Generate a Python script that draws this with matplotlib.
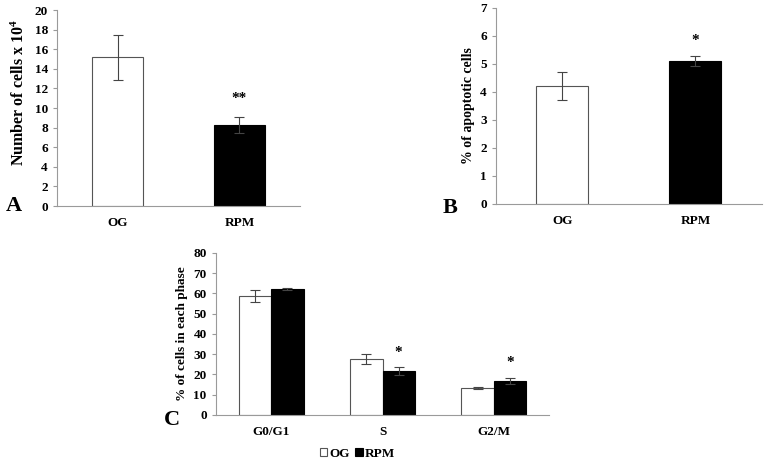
import matplotlib
matplotlib.use("Agg")
import matplotlib.pyplot as plt
import numpy as np

plt.rcParams['font.family'] = ['Liberation Serif', 'DejaVu Serif']
plt.rcParams['font.weight'] = 'bold'
plt.rcParams['mathtext.fontset'] = 'custom'
plt.rcParams['mathtext.rm'] = 'Liberation Serif:bold'
plt.rcParams['mathtext.bf'] = 'Liberation Serif:bold'
plt.rcParams['mathtext.default'] = 'rm'

# panel A
a_groups = ["OG", "RPM"]
a_values = [15.2, 8.3]
a_errors = [2.3, 0.8]
a_stars = ["", "**"]
a_star_y = [0, 11.0]

# panel B
b_groups = ["OG", "RPM"]
b_values = [4.2, 5.1]
b_errors = [0.5, 0.17]
b_stars = ["", "*"]
b_star_y = [0, 5.85]

# panel C
phases = ["G0/G1", "S", "G2/M"]
og_phase = [58.8, 27.5, 13.5]
og_phase_err = [2.8, 2.5, 0.5]
rpm_phase = [62.0, 21.5, 16.7]
rpm_phase_err = [0.5, 2.0, 1.5]
rpm_stars = ["", "*", "*"]
rpm_star_y = [0, 31, 26]

SPINE = "#9a9a9a"
FS = 9.5


def style_axes(ax):
    for s in ["top", "right"]:
        ax.spines[s].set_visible(False)
    ax.spines["left"].set_color(SPINE)
    ax.spines["bottom"].set_color(SPINE)
    ax.tick_params(axis="y", colors=SPINE, length=3, labelsize=FS, labelcolor="black")
    ax.tick_params(axis="x", which="both", length=0, labelsize=FS, labelcolor="black", pad=8)
    for lab in ax.get_yticklabels() + ax.get_xticklabels():
        lab.set_fontweight("bold")


def two_bar(ax, groups, values, errors, stars, star_y, ymax, ylabel, width, lfs):
    x = np.arange(len(groups))
    ax.bar(x, values, width, color=["white", "black"], edgecolor=["#555555", "black"],
           linewidth=0.8, zorder=2)
    ax.errorbar(x, values, yerr=errors, fmt="none", ecolor="#444444", elinewidth=0.8,
                capsize=3.5, capthick=0.8, zorder=3)
    for xi, s, sy in zip(x, stars, star_y):
        if s:
            ax.text(xi, sy, s, ha="center", va="center", fontsize=11)
    ax.set_xlim(-0.5, len(groups) - 0.5)
    ax.set_ylim(0, ymax)
    ax.set_yticks(np.arange(0, ymax + 0.1, 1 if ymax < 10 else 2))
    ax.set_xticks(x)
    ax.set_xticklabels(groups)
    ax.set_xticks(np.arange(0.5, len(groups) - 0.5 + 0.01, 1), minor=True)
    ax.tick_params(axis="x", which="minor", length=4, color=SPINE)
    ax.set_ylabel(ylabel, fontsize=lfs, fontweight="bold")
    style_axes(ax)


fig = plt.figure(figsize=(7.65, 4.59), dpi=100)

axA = fig.add_axes([0.0745, 0.551, 0.318, 0.427])
two_bar(axA, a_groups, a_values, a_errors, a_stars, a_star_y, 20,
        r"Number of cells x 10$^{4}$", 0.42, 11.5)
axA.yaxis.set_label_coords(-0.12, 0.58)

axB = fig.add_axes([0.648, 0.556, 0.348, 0.427])
two_bar(axB, b_groups, b_values, b_errors, b_stars, b_star_y, 7,
        "% of apoptotic cells", 0.39, 10)

axC = fig.add_axes([0.282, 0.096, 0.436, 0.353])
xc = np.arange(len(phases))
w = 0.29
axC.bar(xc - w / 2, og_phase, w, color="white", edgecolor="#555555", linewidth=0.8,
        label="OG", zorder=2)
axC.bar(xc + w / 2, rpm_phase, w, color="black", edgecolor="black", linewidth=0.8,
        label="RPM", zorder=2)
axC.errorbar(xc - w / 2, og_phase, yerr=og_phase_err, fmt="none", ecolor="#444444",
             elinewidth=0.8, capsize=3.5, capthick=0.8, zorder=3)
axC.errorbar(xc + w / 2, rpm_phase, yerr=rpm_phase_err, fmt="none", ecolor="#444444",
             elinewidth=0.8, capsize=3.5, capthick=0.8, zorder=3)
for xi, s, sy in zip(xc, rpm_stars, rpm_star_y):
    if s:
        axC.text(xi + w / 2, sy, s, ha="center", va="center", fontsize=11)
axC.set_xlim(-0.5, len(phases) - 0.5)
axC.set_ylim(0, 80)
axC.set_yticks(np.arange(0, 81, 10))
axC.set_xticks(xc)
axC.set_xticklabels(phases)
axC.set_xticks([-0.5, 0.5, 1.5, 2.5], minor=True)
axC.tick_params(axis="x", which="minor", length=4, color=SPINE)
axC.set_ylabel("% of cells in each phase", fontsize=9.5, fontweight="bold")
style_axes(axC)
axC.legend(loc="upper center", bbox_to_anchor=(0.425, -0.13), ncol=2, frameon=False,
           handlelength=0.55, handleheight=0.55, handletextpad=0.15,
           columnspacing=0.4, prop={"weight": "bold", "size": FS})

fig.text(0.008, 0.551, "A", fontsize=16, fontweight="bold", va="center")
fig.text(0.578, 0.547, "B", fontsize=16, fontweight="bold", va="center")
fig.text(0.214, 0.085, "C", fontsize=16, fontweight="bold", va="center")

fig.savefig("out.png", dpi=100)
